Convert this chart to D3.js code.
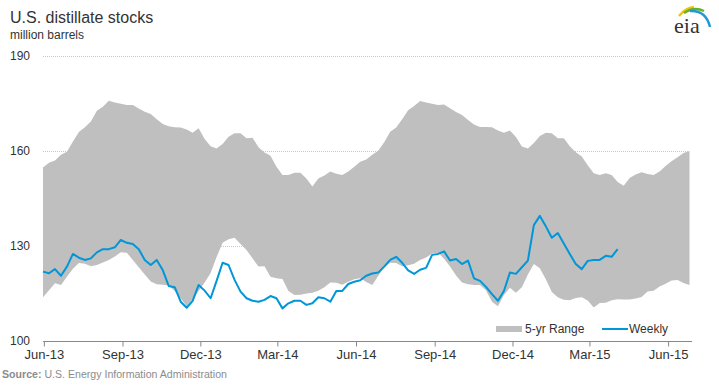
<!DOCTYPE html>
<html lang="en">
<head>
    <meta charset="UTF-8">
    <title>U.S. distillate stocks</title>
    <style>
        body { margin: 0; background: #fff; }
        svg { font-family: "Liberation Sans", Arial, sans-serif; }
        .grid line { stroke: #c8c8c8; stroke-dasharray: 1,1; }
        .tick-label { fill: #333; font-size: 12px; }
        .x-label { fill: #333; font-size: 13px; }
    </style>
</head>
<body>
    <div id="chart"></div>

    <script src="https://d3js.org/d3.v7.min.js"></script>
    <script>
        // weekly categories, Friday week-ending dates
        const firstWeek = new Date(2013, 4, 31);
        const rangeWeeks = 109;
        const weeks = d3.range(rangeWeeks).map(i => d3.timeWeek.offset(firstWeek, i));

        // 5-yr range, million barrels
        const rangeHigh = [154.8, 156.3, 157, 158.8, 159.8, 163, 166, 167.5, 169.3, 172.7,
            174, 175.9, 175.3, 174.9, 174.5, 174.5, 173.4, 172.4, 171.7, 170,
            168.5, 167.8, 167.5, 167.4, 166.8, 165.8, 167.2, 163.8, 161.5, 160.8,
            162.2, 164.5, 165.6, 165.6, 164, 164.2, 161.2, 159.5, 158.5, 155,
            152.4, 152.4, 153.1, 153.1, 151.3, 148.8, 151.3, 152.3, 153.5, 152.8,
            152.4, 153.5, 155, 156.6, 157.3, 158.8, 160.1, 162.8, 166.1, 167.4,
            170, 172.9, 174.2, 175.8, 175.3, 174.9, 174.5, 174.7, 173.5, 172.3,
            171.4, 169.8, 168.4, 167.6, 167.6, 167.5, 166.5, 165.8, 166.5, 164.4,
            161.4, 160.8, 162.5, 164.7, 165.8, 165.6, 164, 164, 161.5, 159.6,
            158.3, 155.5, 153, 152.4, 153, 152.4, 150.2, 149, 151.5, 152.6,
            153.3, 152.7, 152.4, 153.5, 155.3, 156.8, 158, 159.4, 160];
        const rangeLow = [113.8, 116, 118.2, 117.7, 120.3, 122.8, 124.6, 124.4, 123.6, 124,
            124.8, 125.6, 126.7, 128, 127.9, 125.6, 123.3, 121, 118.8, 117.9,
            117.8, 117.5, 115.8, 113.4, 111, 113.3, 115.8, 118.5, 121.5, 126.5,
            131, 132.1, 132.6, 130.6, 128.7, 126.1, 123.5, 123.6, 120.3, 119.8,
            119.6, 115.8, 114.5, 114.6, 115, 115.2, 115.9, 117, 118.5, 118.4,
            117.8, 118.7, 119.5, 119.8, 118.6, 117.7, 120.5, 123.4, 124.7, 124.6,
            123.6, 123.9, 124.4, 125.6, 126.4, 127.6, 127.9, 126, 123.5, 120.7,
            118.5, 117.9, 117.7, 117.7, 116, 112.4, 111, 114.5, 116.8, 115.2,
            117, 121, 124.3, 123, 119.5, 115.5, 113.8, 113, 112.9, 113.6,
            113.8, 112.8, 110.6, 112, 112.1, 112.9, 113.2, 113.1, 113.1, 113.4,
            113.9, 115.6, 115.9, 117.2, 118.1, 119.1, 119.3, 118.3, 117.7];

        // weekly stocks
        const weekly = [121.9, 121.4, 122.7, 120.6, 123.5, 127.5, 126.3, 125.6, 126.1, 128,
            129, 129, 129.6, 131.9, 131, 130.6, 129, 125.6, 124, 125.6,
            122.4, 117.4, 117, 112.4, 110.5, 112.7, 117.7, 115.9, 113.5, 119,
            124.7, 124, 119.3, 115.6, 113.5, 112.7, 112.4, 113, 114.2, 113.5,
            110.3, 111.9, 112.7, 112.7, 111.4, 111.9, 113.8, 113.5, 112.4, 115.8,
            115.8, 118, 118.7, 119.2, 120.6, 121.3, 121.6, 123.5, 125.6, 126.6,
            124.7, 122.3, 121.2, 122.5, 123.1, 127.2, 127.5, 128.3, 125.4, 125.9,
            124.3, 125.4, 119.8, 119, 117.1, 114.8, 112.7, 115.8, 121.6, 121.2,
            123.3, 125.4, 136.6, 139.5, 136.2, 132.6, 134.1, 130.8, 127.5, 124.3,
            122.7, 125.3, 125.6, 125.6, 126.9, 126.6, 129];

        const yTicks = [100, 130, 160, 190];
        const tickDates = [new Date(2013, 5, 1), new Date(2013, 8, 1), new Date(2013, 11, 1),
            new Date(2014, 2, 1), new Date(2014, 5, 1), new Date(2014, 8, 1),
            new Date(2014, 11, 1), new Date(2015, 2, 1), new Date(2015, 5, 1)];
        const tickLabels = ["Jun-13", "Sep-13", "Dec-13", "Mar-14", "Jun-14", "Sep-14", "Dec-14", "Mar-15", "Jun-15"];

        const width = 719;
        const height = 385;

        const svg = d3.select("#chart").append("svg")
            .attr("width", width)
            .attr("height", height);

        const x = d3.scaleTime()
            .domain([weeks[0], weeks[weeks.length - 1]])
            .range([43, 689.5]);

        const y = d3.scaleLinear()
            .domain([100, 190])
            .range([341, 56]);

        // gridlines
        svg.append("g").attr("class", "grid")
            .selectAll("line")
            .data(yTicks.filter(d => d > 100))
            .enter().append("line")
            .attr("x1", 43).attr("x2", 689)
            .attr("y1", d => Math.round(y(d)) + 0.5)
            .attr("y2", d => Math.round(y(d)) + 0.5);

        // y labels
        svg.selectAll(".ylab")
            .data(yTicks)
            .enter().append("text")
            .attr("class", "tick-label")
            .attr("x", 10)
            .attr("y", d => y(d) + 4)
            .text(d => d);

        // 5-yr range band
        const area = d3.area()
            .x((d, i) => x(weeks[i]))
            .y0((d, i) => y(rangeLow[i]))
            .y1(d => y(d));

        svg.append("path")
            .datum(rangeHigh)
            .attr("fill", "#bfbfbf")
            .attr("d", area);

        // weekly line
        const line = d3.line()
            .x((d, i) => x(weeks[i]))
            .y(d => y(d));

        svg.append("path")
            .datum(weekly)
            .attr("fill", "none")
            .attr("stroke", "#0096d7")
            .attr("stroke-width", 2)
            .attr("stroke-linejoin", "round")
            .attr("d", line);

        // x axis
        const xAxis = d3.axisBottom(x)
            .tickValues(tickDates)
            .tickSize(5)
            .tickFormat((d, i) => tickLabels[i]);

        const gx = svg.append("g")
            .attr("transform", "translate(0,341.5)")
            .call(xAxis);
        gx.select(".domain").remove();
        gx.append("line")
            .attr("x1", 43).attr("x2", 692)
            .attr("stroke", "#888");
        gx.selectAll(".tick line").attr("stroke", "#888");
        gx.selectAll(".tick text")
            .attr("class", "x-label")
            .attr("font-family", null)
            .attr("font-size", null)
            .attr("dy", "0.95em")
            .attr("y", 5);

        // title
        svg.append("text")
            .attr("x", 10).attr("y", 23)
            .attr("fill", "#333")
            .attr("font-size", 16)
            .text("U.S. distillate stocks");
        svg.append("text")
            .attr("x", 10).attr("y", 39)
            .attr("fill", "#333")
            .attr("font-size", 12)
            .text("million barrels");

        // legend
        const legend = svg.append("g");
        legend.append("rect")
            .attr("x", 496).attr("y", 326)
            .attr("width", 26).attr("height", 6)
            .attr("fill", "#bfbfbf");
        legend.append("text")
            .attr("class", "tick-label")
            .attr("x", 525).attr("y", 333)
            .text("5-yr Range");
        legend.append("line")
            .attr("x1", 602).attr("x2", 628)
            .attr("y1", 329).attr("y2", 329)
            .attr("stroke", "#0096d7")
            .attr("stroke-width", 2);
        legend.append("text")
            .attr("class", "tick-label")
            .attr("x", 629).attr("y", 333)
            .text("Weekly");

        // source
        const src = svg.append("text")
            .attr("x", 2).attr("y", 378)
            .attr("font-size", 10.6)
            .attr("fill", "#8c8c8c");
        src.append("tspan").attr("font-weight", "bold").text("Source:");
        src.append("tspan").text(" U.S. Energy Information Administration");

        // eia logo
        const logo = svg.append("g");
        logo.append("path")
            .attr("d", "M679,16 Q685,8 694,7")
            .attr("fill", "none").attr("stroke", "#f2c500").attr("stroke-width", 2.5);
        logo.append("path")
            .attr("d", "M684,13 Q694,6 704,11")
            .attr("fill", "none").attr("stroke", "#6ab023").attr("stroke-width", 2.5);
        logo.append("path")
            .attr("d", "M690,11 Q706,10 710,27")
            .attr("fill", "none").attr("stroke", "#1e9ad6").attr("stroke-width", 2.5);
        logo.append("text")
            .attr("x", 674).attr("y", 33)
            .attr("font-family", "'Liberation Serif', 'DejaVu Serif', serif")
            .attr("font-size", 22)
            .attr("fill", "#333")
            .text("eia");
    </script>
</body>
</html>
